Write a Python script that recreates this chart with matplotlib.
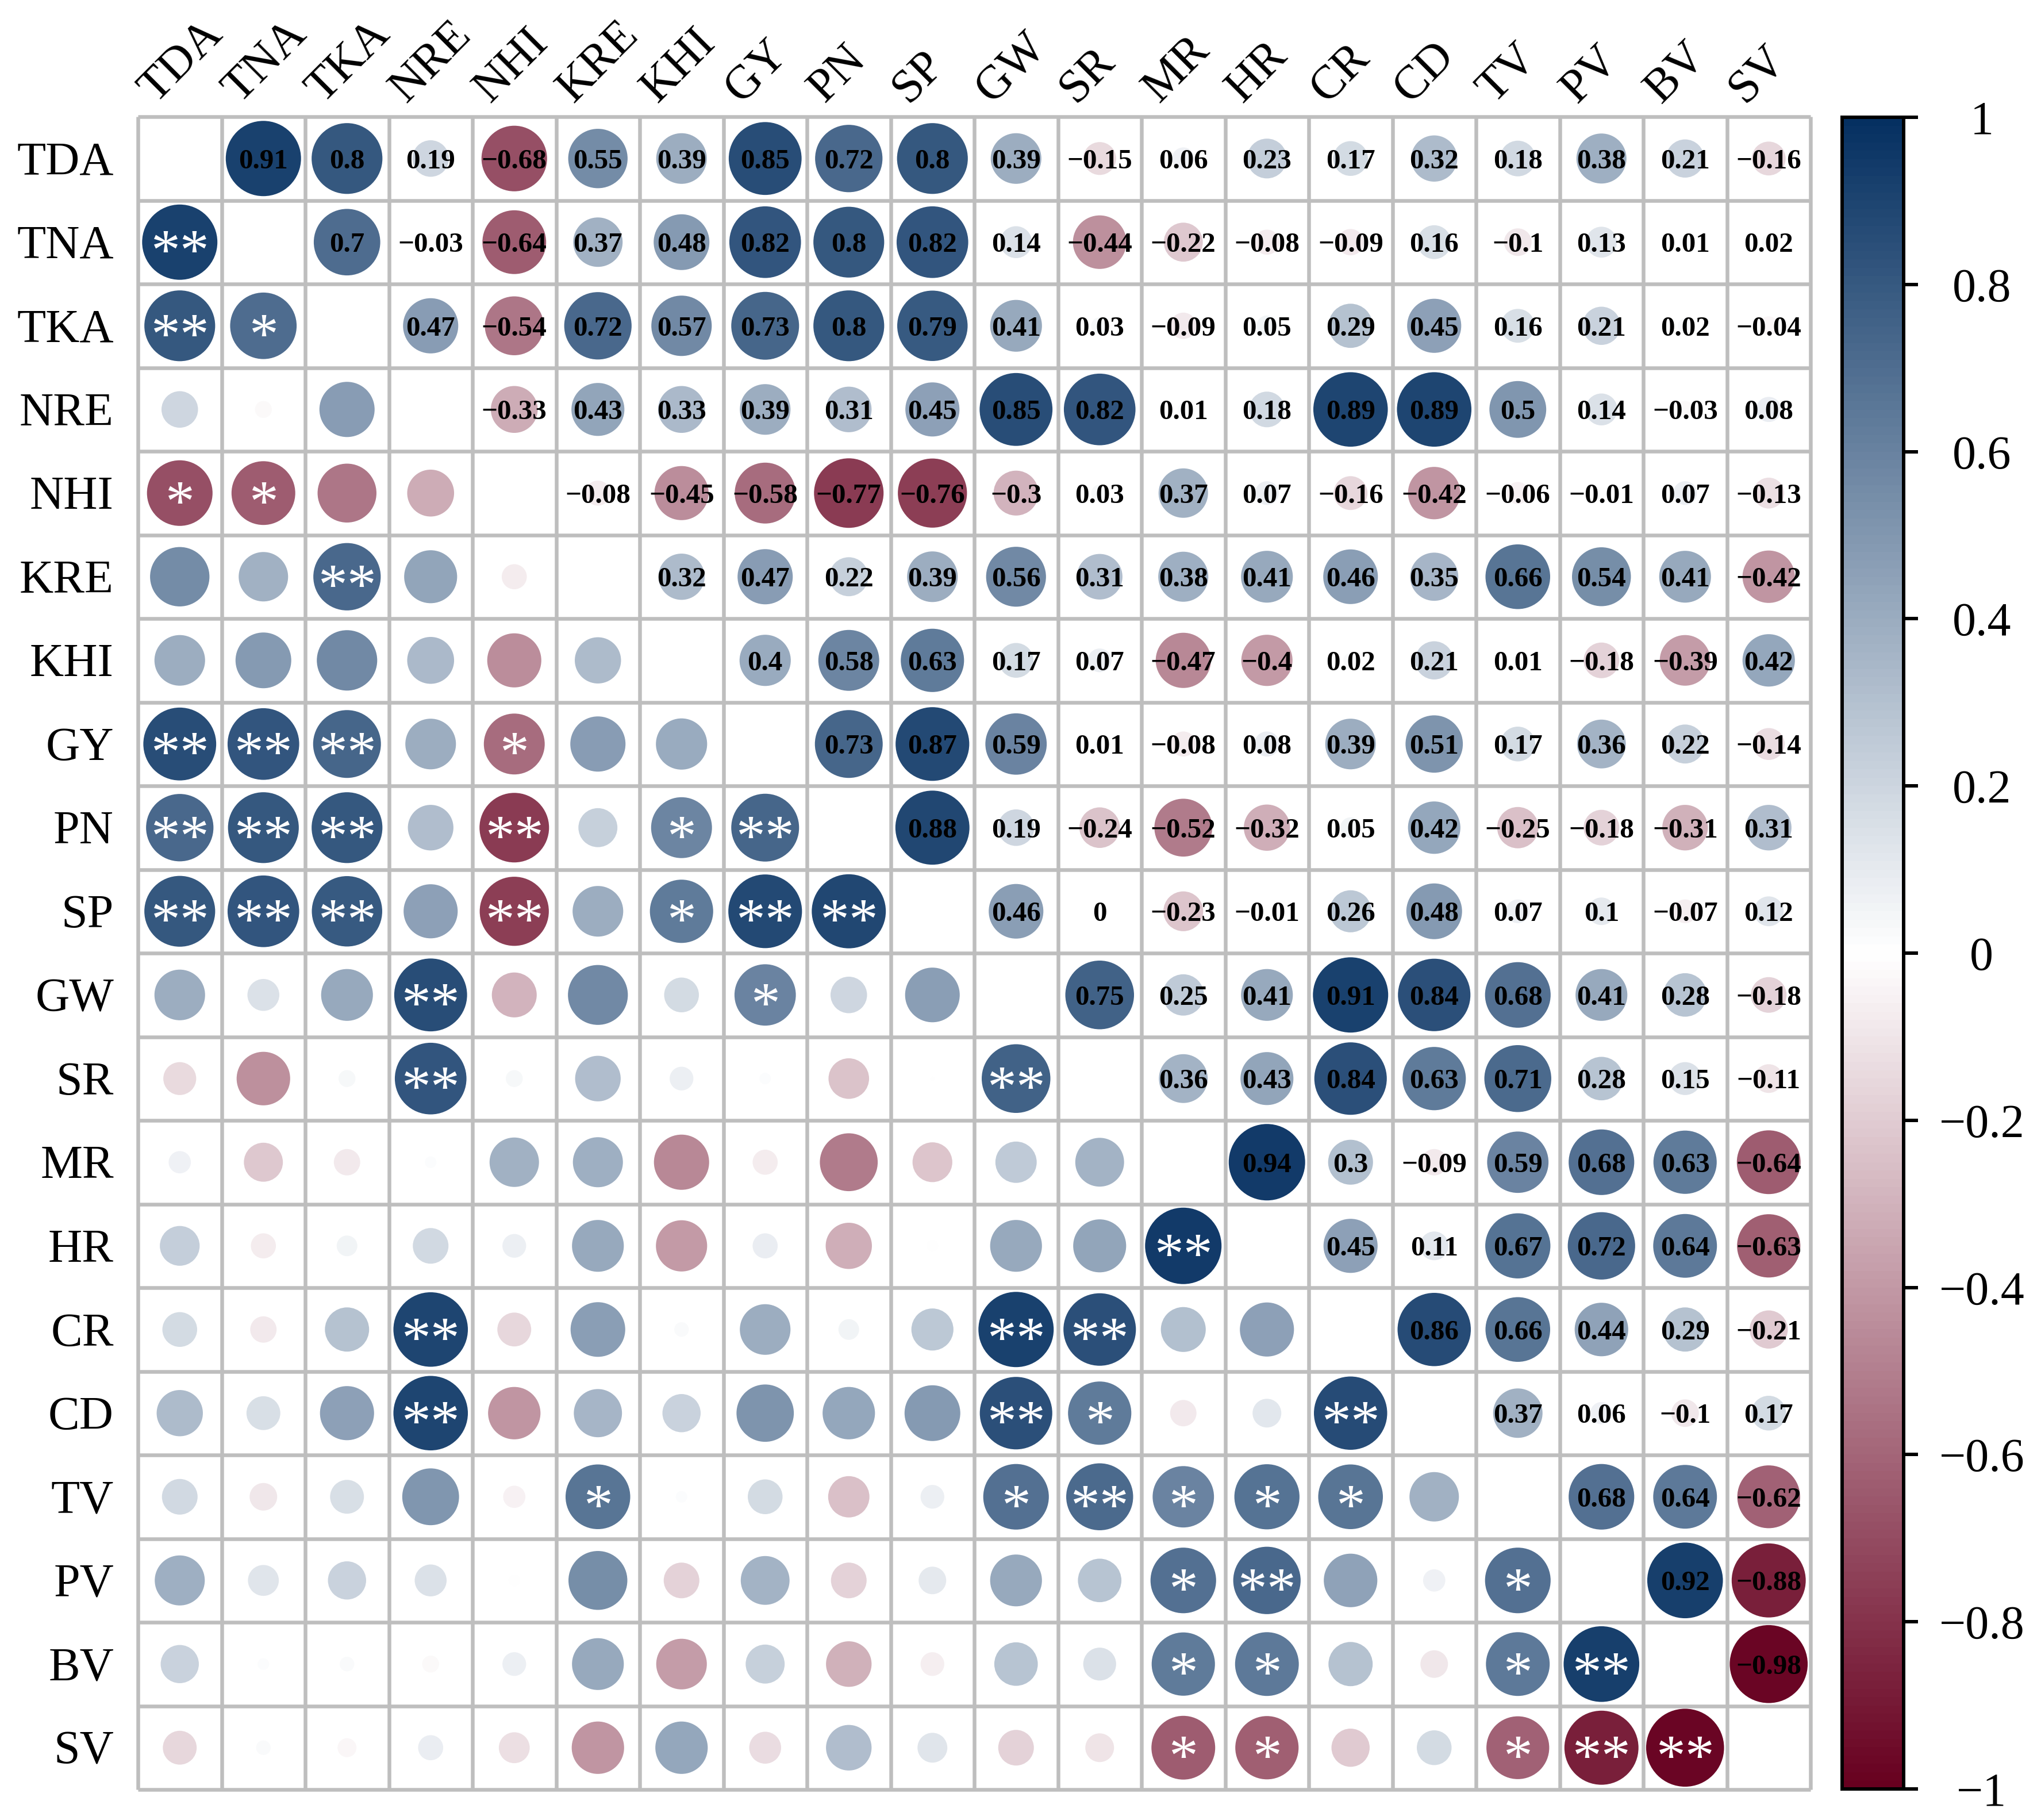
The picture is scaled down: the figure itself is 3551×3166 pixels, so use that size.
import numpy as np
import matplotlib
matplotlib.use("Agg")
import matplotlib.pyplot as plt
from matplotlib.patches import Circle
from matplotlib.colors import LinearSegmentedColormap, Normalize
from matplotlib.cm import ScalarMappable

plt.rcParams['font.family'] = ['Liberation Serif', 'DejaVu Serif']

traits = ["TDA", "TNA", "TKA", "NRE", "NHI", "KRE", "KHI", "GY", "PN", "SP",
          "GW", "SR", "MR", "HR", "CR", "CD", "TV", "PV", "BV", "SV"]

# upper triangle, row by row (cells right of the diagonal)
upper = [
    [0.91, 0.8, 0.19, -0.68, 0.55, 0.39, 0.85, 0.72, 0.8, 0.39, -0.15, 0.06, 0.23, 0.17, 0.32, 0.18, 0.38, 0.21, -0.16],
    [0.7, -0.03, -0.64, 0.37, 0.48, 0.82, 0.8, 0.82, 0.14, -0.44, -0.22, -0.08, -0.09, 0.16, -0.1, 0.13, 0.01, 0.02],
    [0.47, -0.54, 0.72, 0.57, 0.73, 0.8, 0.79, 0.41, 0.03, -0.09, 0.05, 0.29, 0.45, 0.16, 0.21, 0.02, -0.04],
    [-0.33, 0.43, 0.33, 0.39, 0.31, 0.45, 0.85, 0.82, 0.01, 0.18, 0.89, 0.89, 0.5, 0.14, -0.03, 0.08],
    [-0.08, -0.45, -0.58, -0.77, -0.76, -0.3, 0.03, 0.37, 0.07, -0.16, -0.42, -0.06, -0.01, 0.07, -0.13],
    [0.32, 0.47, 0.22, 0.39, 0.56, 0.31, 0.38, 0.41, 0.46, 0.35, 0.66, 0.54, 0.41, -0.42],
    [0.4, 0.58, 0.63, 0.17, 0.07, -0.47, -0.4, 0.02, 0.21, 0.01, -0.18, -0.39, 0.42],
    [0.73, 0.87, 0.59, 0.01, -0.08, 0.08, 0.39, 0.51, 0.17, 0.36, 0.22, -0.14],
    [0.88, 0.19, -0.24, -0.52, -0.32, 0.05, 0.42, -0.25, -0.18, -0.31, 0.31],
    [0.46, 0, -0.23, -0.01, 0.26, 0.48, 0.07, 0.1, -0.07, 0.12],
    [0.75, 0.25, 0.41, 0.91, 0.84, 0.68, 0.41, 0.28, -0.18],
    [0.36, 0.43, 0.84, 0.63, 0.71, 0.28, 0.15, -0.11],
    [0.94, 0.3, -0.09, 0.59, 0.68, 0.63, -0.64],
    [0.45, 0.11, 0.67, 0.72, 0.64, -0.63],
    [0.86, 0.66, 0.44, 0.29, -0.21],
    [0.37, 0.06, -0.1, 0.17],
    [0.68, 0.64, -0.62],
    [0.92, -0.88],
    [-0.98],
    [],
]

# significance marks, lower triangle, row by row (cells left of the diagonal)
stars = [
    [],
    ["**"],
    ["**", "*"],
    ["", "", ""],
    ["*", "*", "", ""],
    ["", "", "**", "", ""],
    ["", "", "", "", "", ""],
    ["**", "**", "**", "", "*", "", ""],
    ["**", "**", "**", "", "**", "", "*", "**"],
    ["**", "**", "**", "", "**", "", "*", "**", "**"],
    ["", "", "", "**", "", "", "", "*", "", ""],
    ["", "", "", "**", "", "", "", "", "", "", "**"],
    ["", "", "", "", "", "", "", "", "", "", "", ""],
    ["", "", "", "", "", "", "", "", "", "", "", "", "**"],
    ["", "", "", "**", "", "", "", "", "", "", "**", "**", "", ""],
    ["", "", "", "**", "", "", "", "", "", "", "**", "*", "", "", "**"],
    ["", "", "", "", "", "*", "", "", "", "", "*", "**", "*", "*", "*", ""],
    ["", "", "", "", "", "", "", "", "", "", "", "", "*", "**", "", "", "*"],
    ["", "", "", "", "", "", "", "", "", "", "", "", "*", "*", "", "", "*", "**"],
    ["", "", "", "", "", "", "", "", "", "", "", "", "*", "*", "", "", "*", "**", "**"],
]

cbar_ticks = [-1, -0.8, -0.6, -0.4, -0.2, 0, 0.2, 0.4, 0.6, 0.8, 1]

n = len(traits)
corr = np.eye(n)
for i, row in enumerate(upper):
    for k, v in enumerate(row):
        j = i + 1 + k
        corr[i, j] = v
        corr[j, i] = v


def fmt(v):
    return f"{v:g}".replace("-", "\u2212")


cmap = LinearSegmentedColormap.from_list("rwb", ["#67001F", "#FFFFFF", "#053061"], N=200)
norm = Normalize(-1, 1)

fig = plt.figure(figsize=(3551 / 300, 3166 / 300), dpi=300)
ax = fig.add_axes([240 / 3551, 1 - 3113 / 3166, 2910 / 3551, 2910 / 3166])
ax.set_xlim(0, n)
ax.set_ylim(n, 0)
ax.axis("off")

grid_col = "#BEBEBE"
ax.vlines(range(n + 1), 0, n, color=grid_col, lw=1.56, zorder=3, clip_on=False)
ax.hlines(range(n + 1), 0, n, color=grid_col, lw=1.56, zorder=3, clip_on=False)

for i in range(n):
    for j in range(n):
        if i == j:
            continue
        v = corr[i, j]
        rad = 0.5 * (0.047 + 0.894 * np.sqrt(abs(v)))
        ax.add_patch(Circle((j + 0.5, i + 0.5), rad, facecolor=cmap(norm(v)),
                            edgecolor="none", zorder=2))
        if j > i:
            ax.text(j + 0.5, i + 0.5 + 0.117, fmt(v), ha="center", va="baseline",
                    fontsize=11.8, fontweight="bold", color="black", zorder=4)
        else:
            mark = stars[i][j]
            if mark:
                ax.text(j + 0.5, i + 0.5 + 0.33, mark, ha="center", va="baseline",
                        fontsize=24.4, color="white", zorder=4)

for i, name in enumerate(traits):
    ax.text(-0.289, i + 0.5 + 0.19, name, ha="right", va="baseline",
            fontsize=19.7, clip_on=False)
    ax.text(i + 0.5 - 0.29, -0.155, name, ha="left", va="baseline",
            rotation=45, rotation_mode="anchor", fontsize=19.7, clip_on=False)

# colour bar
cax = fig.add_axes([3204.5 / 3551, 1 - 3112 / 3166, 107.5 / 3551, 2908 / 3166])
cb = fig.colorbar(ScalarMappable(norm=norm, cmap=cmap), cax=cax, ticks=cbar_ticks)
cb.outline.set_linewidth(1.44)
cb.outline.set_edgecolor("black")
cax.yaxis.set_ticks_position("right")
cax.tick_params(axis="y", length=6, width=1.44, pad=26.6, labelsize=19.7)
cax.set_yticklabels([fmt(t) for t in cbar_ticks], ha="center")

fig.savefig("out.png", dpi=300)
